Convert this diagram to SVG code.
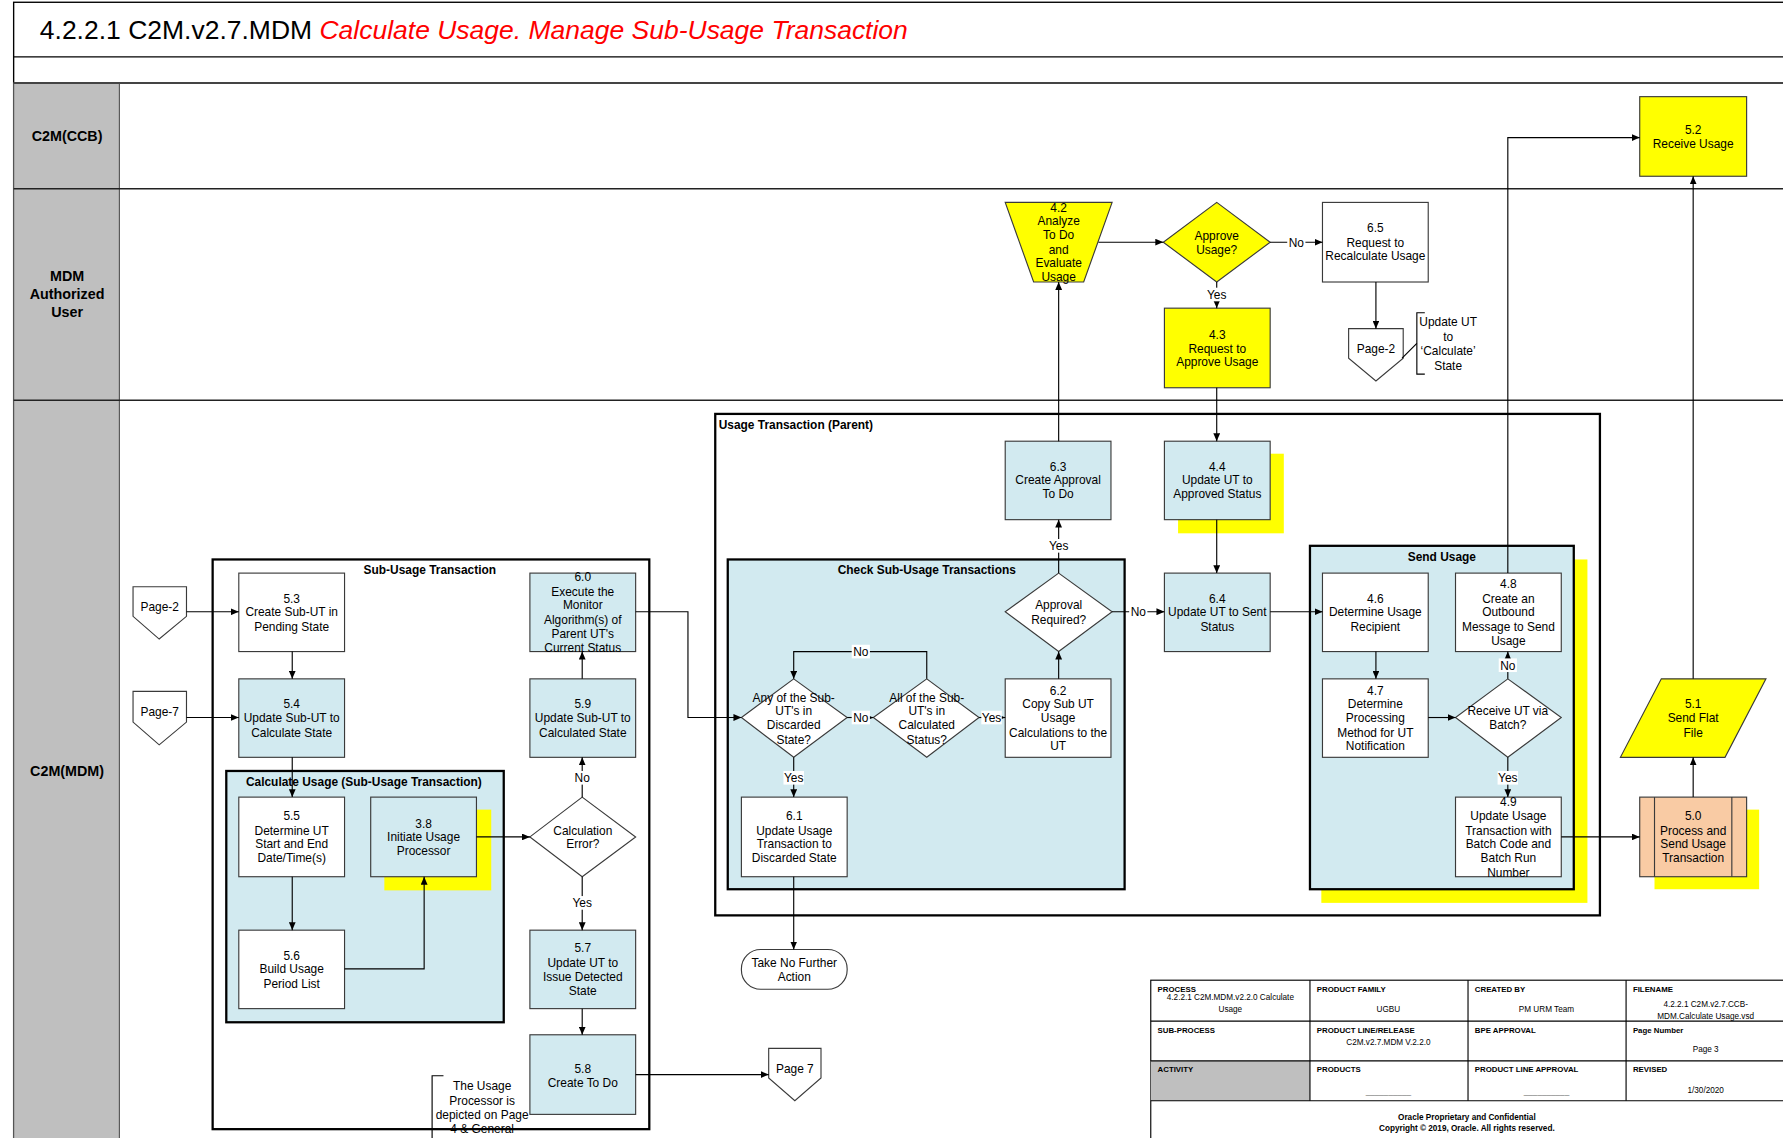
<svg xmlns="http://www.w3.org/2000/svg" width="1783" height="1138" viewBox="0 0 1783 1138">
<defs>
<marker id="ah" viewBox="0 0 10 10" refX="10" refY="5" markerWidth="7" markerHeight="6" markerUnits="userSpaceOnUse" orient="auto" preserveAspectRatio="none"><path d="M0,0 L10,5 L0,10 z" fill="#000"/></marker>
<style>
text{font-family:"Liberation Sans",Arial,sans-serif;fill:#000}
.t{font-size:10.5px;text-anchor:middle}
.bl{font-weight:bold}
.lane{font-size:12.6px;font-weight:bold;text-anchor:middle}
.box{stroke:#3a3a3a;stroke-width:1}
.w{fill:#fff}
.lb{fill:#D2EAF0}
.y{fill:#FFFF00}
.pe{fill:#F9CBA4}
.cont{stroke:#000;stroke-width:2}
.c{fill:none;stroke:#000;stroke-width:1}
.a{marker-end:url(#ah)}
.lbg{fill:#fff}
.th{font-size:6.9px;font-weight:bold}
.tv{font-size:7.2px;text-anchor:middle}
</style>
</defs>
<rect width="1783" height="1138" fill="#fff"/>
<g transform="scale(1.13712)">
<g id="frame">
<rect x="12" y="2" width="1570" height="1010" fill="none" stroke="#000" stroke-width="1.2"/>
<line x1="12" y1="50" x2="1575" y2="50" stroke="#000" stroke-width="1.2"/>
<text x="35" y="34.5" style="font-size:23.3px"><tspan>4.2.2.1 C2M.v2.7.MDM </tspan><tspan style="font-style:italic;fill:#FF0000">Calculate Usage. Manage Sub-Usage Transaction</tspan></text>
</g>
<g id="lanes">
<rect x="12" y="73" width="93" height="940" fill="#BFBFBF" stroke="#555" stroke-width="1"/>
<line x1="12" y1="73" x2="1575" y2="73" stroke="#444" stroke-width="1.8"/>
<line x1="12" y1="166" x2="1575" y2="166" stroke="#222" stroke-width="1.3"/>
<line x1="12" y1="352" x2="1575" y2="352" stroke="#222" stroke-width="1.3"/>
<text class="lane" x="59" y="124">C2M(CCB)</text>
<text class="lane"><tspan x="59" y="247">MDM</tspan><tspan x="59" y="263">Authorized</tspan><tspan x="59" y="279">User</tspan></text>
<text class="lane" x="59" y="682">C2M(MDM)</text>
</g>
<g id="containers">
<g id="parent-ut">
<rect x="629" y="364" width="778" height="441" fill="#fff" class="cont"/>
<text class="bl" x="632" y="377" style="font-size:10.5px">Usage Transaction (Parent)</text>
</g>
<g id="check-sub">
<rect x="640" y="492" width="349" height="290" class="lb cont"/>
<text class="t bl" x="815" y="505">Check Sub-Usage Transactions</text>
</g>
<g id="send-usage">
<rect x="1162" y="492" width="234" height="302" class="y"/>
<rect x="1152" y="480" width="232" height="302" class="lb cont"/>
<text class="t bl" x="1268" y="493">Send Usage</text>
</g>
<g id="sub-ut">
<rect x="187" y="492" width="384" height="501" fill="#fff" class="cont"/>
<text class="t bl" x="378" y="505">Sub-Usage Transaction</text>
</g>
<g id="calc-usage">
<rect x="199" y="678" width="244" height="221" class="lb cont"/>
<text class="t bl" x="320" y="691">Calculate Usage (Sub-Usage Transaction)</text>
</g>
</g>
<g id="n5_2"><rect x="1442" y="85" width="94" height="70" class="y box"/><text class="t"><tspan x="1489" y="118">5.2</tspan><tspan x="1489" y="130">Receive Usage</tspan></text></g>
<g id="n4_2"><polygon points="884,178 978,178 953,248 909,248" class="y box"/><text class="t"><tspan x="931" y="186">4.2</tspan><tspan x="931" y="198">Analyze</tspan><tspan x="931" y="210">To Do</tspan><tspan x="931" y="223">and</tspan><tspan x="931" y="235">Evaluate</tspan><tspan x="931" y="247">Usage</tspan></text></g>
<g id="d_approve"><polygon points="1070,178 1117,213 1070,248 1023,213" class="y box"/><text class="t"><tspan x="1070" y="211">Approve</tspan><tspan x="1070" y="223">Usage?</tspan></text></g>
<g id="n6_5"><rect x="1163" y="178" width="93" height="70" class="w box"/><text class="t"><tspan x="1209.5" y="204">6.5</tspan><tspan x="1209.5" y="217">Request to</tspan><tspan x="1209.5" y="229">Recalculate Usage</tspan></text></g>
<g id="p_page2_top"><polygon points="1186,289 1234,289 1234,315 1210,335 1186,315" class="w box"/><text class="t" x="1210" y="310">Page-2</text></g>
<g id="note_calc_state"><path d="M1233,315 L1246,302" class="c"/><path d="M1253,275 H1246 V329 H1253" class="c"/><text class="t"><tspan x="1273.5" y="287">Update UT</tspan><tspan x="1273.5" y="300">to</tspan><tspan x="1273.5" y="312">‘Calculate’</tspan><tspan x="1273.5" y="325">State</tspan></text></g>
<g id="n4_3"><rect x="1024" y="271" width="93" height="70" class="y box"/><text class="t"><tspan x="1070.5" y="298">4.3</tspan><tspan x="1070.5" y="310">Request to</tspan><tspan x="1070.5" y="322">Approve Usage</tspan></text></g>
<g id="n6_3"><rect x="884" y="388" width="93" height="69" class="lb box"/><text class="t"><tspan x="930.5" y="414">6.3</tspan><tspan x="930.5" y="426">Create Approval</tspan><tspan x="930.5" y="438">To Do</tspan></text></g>
<g id="n4_4"><rect x="1036" y="399" width="93" height="70" class="y"/><rect x="1024" y="388" width="93" height="69" class="lb box"/><text class="t"><tspan x="1070.5" y="414">4.4</tspan><tspan x="1070.5" y="426">Update UT to</tspan><tspan x="1070.5" y="438">Approved Status</tspan></text></g>
<g id="n6_4"><rect x="1024" y="504" width="93" height="69" class="lb box"/><text class="t"><tspan x="1070.5" y="530">6.4</tspan><tspan x="1070.5" y="542">Update UT to Sent</tspan><tspan x="1070.5" y="555">Status</tspan></text></g>
<g id="d_approval_req"><polygon points="931,504 978,538 931,573 884,538" class="w box"/><text class="t"><tspan x="931" y="536">Approval</tspan><tspan x="931" y="549">Required?</tspan></text></g>
<g id="n6_2"><rect x="884" y="597" width="93" height="69" class="w box"/><text class="t"><tspan x="930.5" y="611">6.2</tspan><tspan x="930.5" y="623">Copy Sub UT</tspan><tspan x="930.5" y="635">Usage</tspan><tspan x="930.5" y="648">Calculations to the</tspan><tspan x="930.5" y="660">UT</tspan></text></g>
<g id="d_any_discarded"><polygon points="698,597 745,631 698,666 652,631" class="w box"/><text class="t"><tspan x="698" y="617">Any of the Sub-</tspan><tspan x="698" y="629">UT's in</tspan><tspan x="698" y="641">Discarded</tspan><tspan x="698" y="654">State?</tspan></text></g>
<g id="d_all_calculated"><polygon points="815,597 861,631 815,666 768,631" class="w box"/><text class="t"><tspan x="815" y="617">All of the Sub-</tspan><tspan x="815" y="629">UT's in</tspan><tspan x="815" y="641">Calculated</tspan><tspan x="815" y="654">Status?</tspan></text></g>
<g id="n6_1"><rect x="652" y="701" width="93" height="70" class="w box"/><text class="t"><tspan x="698.5" y="721">6.1</tspan><tspan x="698.5" y="734">Update Usage</tspan><tspan x="698.5" y="746">Transaction to</tspan><tspan x="698.5" y="758">Discarded State</tspan></text></g>
<g id="t_no_action"><rect x="652" y="835" width="93" height="35" rx="17" ry="17" class="w box"/><text class="t"><tspan x="698.5" y="850">Take No Further</tspan><tspan x="698.5" y="863">Action</tspan></text></g>
<g id="n4_6"><rect x="1163" y="504" width="93" height="69" class="w box"/><text class="t"><tspan x="1209.5" y="530">4.6</tspan><tspan x="1209.5" y="542">Determine Usage</tspan><tspan x="1209.5" y="555">Recipient</tspan></text></g>
<g id="n4_8"><rect x="1280" y="504" width="93" height="69" class="w box"/><text class="t"><tspan x="1326.5" y="517">4.8</tspan><tspan x="1326.5" y="530">Create an</tspan><tspan x="1326.5" y="542">Outbound</tspan><tspan x="1326.5" y="555">Message to Send</tspan><tspan x="1326.5" y="567">Usage</tspan></text></g>
<g id="n4_7"><rect x="1163" y="597" width="93" height="69" class="w box"/><text class="t"><tspan x="1209.5" y="611">4.7</tspan><tspan x="1209.5" y="623">Determine</tspan><tspan x="1209.5" y="635">Processing</tspan><tspan x="1209.5" y="648">Method for UT</tspan><tspan x="1209.5" y="660">Notification</tspan></text></g>
<g id="d_batch"><polygon points="1326,597 1373,631 1326,666 1280,631" class="w box"/><text class="t"><tspan x="1326" y="629">Receive UT via</tspan><tspan x="1326" y="641">Batch?</tspan></text></g>
<g id="n4_9"><rect x="1280" y="701" width="93" height="70" class="w box"/><text class="t"><tspan x="1326.5" y="709">4.9</tspan><tspan x="1326.5" y="721">Update Usage</tspan><tspan x="1326.5" y="734">Transaction with</tspan><tspan x="1326.5" y="746">Batch Code and</tspan><tspan x="1326.5" y="758">Batch Run</tspan><tspan x="1326.5" y="771">Number</tspan></text></g>
<g id="n5_0"><rect x="1455" y="712" width="92" height="70" class="y"/><rect x="1442" y="701" width="94" height="70" class="pe box"/><line x1="1455" y1="701" x2="1455" y2="771" class="box"/><line x1="1523" y1="701" x2="1523" y2="771" class="box"/><text class="t"><tspan x="1489" y="721">5.0</tspan><tspan x="1489" y="734">Process and</tspan><tspan x="1489" y="746">Send Usage</tspan><tspan x="1489" y="758">Transaction</tspan></text></g>
<g id="n5_1"><polygon points="1461,597 1553,597 1517,666 1425,666" class="y box"/><text class="t"><tspan x="1489" y="623">5.1</tspan><tspan x="1489" y="635">Send Flat</tspan><tspan x="1489" y="648">File</tspan></text></g>
<g id="p_page2_left"><polygon points="117,516 164,516 164,542 140,562 117,542" class="w box"/><text class="t" x="140.5" y="537">Page-2</text></g>
<g id="n5_3"><rect x="210" y="504" width="93" height="69" class="w box"/><text class="t"><tspan x="256.5" y="530">5.3</tspan><tspan x="256.5" y="542">Create Sub-UT in</tspan><tspan x="256.5" y="555">Pending State</tspan></text></g>
<g id="p_page7_left"><polygon points="117,608 164,608 164,635 140,655 117,635" class="w box"/><text class="t" x="140.5" y="630">Page-7</text></g>
<g id="n5_4"><rect x="210" y="597" width="93" height="69" class="lb box"/><text class="t"><tspan x="256.5" y="623">5.4</tspan><tspan x="256.5" y="635">Update Sub-UT to</tspan><tspan x="256.5" y="648">Calculate State</tspan></text></g>
<g id="n5_5"><rect x="210" y="701" width="93" height="70" class="w box"/><text class="t"><tspan x="256.5" y="721">5.5</tspan><tspan x="256.5" y="734">Determine UT</tspan><tspan x="256.5" y="746">Start and End</tspan><tspan x="256.5" y="758">Date/Time(s)</tspan></text></g>
<g id="n5_6"><rect x="210" y="818" width="93" height="69" class="w box"/><text class="t"><tspan x="256.5" y="844">5.6</tspan><tspan x="256.5" y="856">Build Usage</tspan><tspan x="256.5" y="869">Period List</tspan></text></g>
<g id="n3_8"><rect x="338" y="712" width="94" height="71" class="y"/><rect x="326" y="701" width="93" height="70" class="lb box"/><text class="t"><tspan x="372.5" y="728">3.8</tspan><tspan x="372.5" y="740">Initiate Usage</tspan><tspan x="372.5" y="752">Processor</tspan></text></g>
<g id="d_calc_error"><polygon points="512,701 559,736 512,771 466,736" class="w box"/><text class="t"><tspan x="512.5" y="734">Calculation</tspan><tspan x="512.5" y="746">Error?</tspan></text></g>
<g id="n5_9"><rect x="466" y="597" width="93" height="69" class="lb box"/><text class="t"><tspan x="512.5" y="623">5.9</tspan><tspan x="512.5" y="635">Update Sub-UT to</tspan><tspan x="512.5" y="648">Calculated State</tspan></text></g>
<g id="n6_0"><rect x="466" y="504" width="93" height="69" class="lb box"/><text class="t"><tspan x="512.5" y="511">6.0</tspan><tspan x="512.5" y="524">Execute the</tspan><tspan x="512.5" y="536">Monitor</tspan><tspan x="512.5" y="549">Algorithm(s) of</tspan><tspan x="512.5" y="561">Parent UT's</tspan><tspan x="512.5" y="573">Current Status</tspan></text></g>
<g id="n5_7"><rect x="466" y="818" width="93" height="69" class="lb box"/><text class="t"><tspan x="512.5" y="837">5.7</tspan><tspan x="512.5" y="850">Update UT to</tspan><tspan x="512.5" y="863">Issue Detected</tspan><tspan x="512.5" y="875">State</tspan></text></g>
<g id="n5_8"><rect x="466" y="910" width="93" height="70" class="lb box"/><text class="t"><tspan x="512.5" y="944">5.8</tspan><tspan x="512.5" y="956">Create To Do</tspan></text></g>
<g id="p_page7_bottom"><polygon points="676,922 722,922 722,948 699,968 676,948" class="w box"/><text class="t" x="699" y="944">Page 7</text></g>
<g id="note_usage_processor"><path d="M390,946 H380 V1010" class="c"/><text class="t"><tspan x="424" y="959">The Usage</tspan><tspan x="424" y="972">Processor is</tspan><tspan x="424" y="984">depicted on Page</tspan><tspan x="424" y="996">4 &amp; General</tspan></text></g>
<g id="connectors">
<path class="c a" d="M966,213 H1023"/>
<path class="c a" d="M1117,213 H1163"/>
<path class="c a" d="M1070,248 V271"/>
<path class="c a" d="M1210,248 V289"/>
<path class="c a" d="M1070,341 V388"/>
<path class="c a" d="M931,388 V248"/>
<path class="c a" d="M1070,457 V504"/>
<path class="c a" d="M931,504 V457"/>
<path class="c a" d="M978,538 H1024"/>
<path class="c a" d="M931,597 V573"/>
<path class="c a" d="M861,631 H884"/>
<path class="c a" d="M745,631 H768"/>
<path class="c a" d="M815,597 V573 H698 V597"/>
<path class="c a" d="M698,666 V701"/>
<path class="c a" d="M698,771 V835"/>
<path class="c a" d="M559,538 H605 V631 H652"/>
<path class="c a" d="M1117,538 H1163"/>
<path class="c a" d="M1326,504 V121 H1442"/>
<path class="c a" d="M1210,573 V597"/>
<path class="c a" d="M1256,631 H1280"/>
<path class="c a" d="M1326,597 V573"/>
<path class="c a" d="M1326,666 V701"/>
<path class="c a" d="M1373,736 H1442"/>
<path class="c a" d="M1489,701 V666"/>
<path class="c a" d="M1489,597 V155"/>
<path class="c a" d="M164,538 H210"/>
<path class="c a" d="M257,573 V597"/>
<path class="c a" d="M164,631 H210"/>
<path class="c a" d="M257,666 V701"/>
<path class="c a" d="M257,771 V818"/>
<path class="c a" d="M303,852 H373 V771"/>
<path class="c a" d="M419,736 H466"/>
<path class="c a" d="M512,701 V666"/>
<path class="c a" d="M512,771 V818"/>
<path class="c a" d="M512,597 V573"/>
<path class="c a" d="M512,887 V910"/>
<path class="c a" d="M559,945 H676"/>
<g id="connector-labels">
<rect class="lbg" x="1132" y="207" width="16" height="12"/><text class="t" x="1140" y="217">No</text>
<rect class="lbg" x="1061" y="253" width="18" height="12"/><text class="t" x="1070" y="263">Yes</text>
<rect class="lbg" x="922" y="474" width="18" height="12"/><text class="t" x="931" y="484">Yes</text>
<rect class="lbg" x="993" y="532" width="16" height="12"/><text class="t" x="1001" y="542">No</text>
<rect class="lbg" x="863" y="625" width="18" height="12"/><text class="t" x="872" y="635">Yes</text>
<rect class="lbg" x="749" y="625" width="16" height="12"/><text class="t" x="757" y="635">No</text>
<rect class="lbg" x="749" y="567" width="16" height="12"/><text class="t" x="757" y="577">No</text>
<rect class="lbg" x="689" y="678" width="18" height="12"/><text class="t" x="698" y="688">Yes</text>
<rect class="lbg" x="1318" y="579" width="16" height="12"/><text class="t" x="1326" y="589">No</text>
<rect class="lbg" x="1317" y="678" width="18" height="12"/><text class="t" x="1326" y="688">Yes</text>
<rect class="lbg" x="504" y="678" width="16" height="12"/><text class="t" x="512" y="688">No</text>
<rect class="lbg" x="503" y="788" width="18" height="12"/><text class="t" x="512" y="798">Yes</text>
</g>
</g>
<g id="title-block">
<rect x="1012" y="862" width="560" height="150" fill="#fff" stroke="#000" stroke-width="1"/>
<rect x="1012" y="933" width="140" height="35" fill="#BFBFBF"/>
<g stroke="#000" stroke-width="1">
<line x1="1012" y1="898" x2="1572" y2="898"/>
<line x1="1012" y1="933" x2="1572" y2="933"/>
<line x1="1012" y1="968" x2="1572" y2="968"/>
<line x1="1152" y1="862" x2="1152" y2="968"/>
<line x1="1291" y1="862" x2="1291" y2="968"/>
<line x1="1430" y1="862" x2="1430" y2="968"/>
</g>
<text class="th" x="1018" y="872">PROCESS</text>
<text class="tv"><tspan x="1082" y="879">4.2.2.1 C2M.MDM.v2.2.0 Calculate</tspan><tspan x="1082" y="890">Usage</tspan></text>
<text class="th" x="1158" y="872">PRODUCT FAMILY</text>
<text class="tv" x="1221" y="890">UGBU</text>
<text class="th" x="1297" y="872">CREATED BY</text>
<text class="tv" x="1360" y="890">PM URM Team</text>
<text class="th" x="1436" y="872">FILENAME</text>
<text class="tv"><tspan x="1500" y="886">4.2.2.1 C2M.v2.7.CCB-</tspan><tspan x="1500" y="896">MDM.Calculate Usage.vsd</tspan></text>
<text class="th" x="1018" y="908">SUB-PROCESS</text>
<text class="th" x="1158" y="908">PRODUCT LINE/RELEASE</text>
<text class="tv" x="1221" y="919">C2M.v2.7.MDM V.2.2.0</text>
<text class="th" x="1297" y="908">BPE APPROVAL</text>
<text class="th" x="1436" y="908">Page Number</text>
<text class="tv" x="1500" y="925">Page 3</text>
<text class="th" x="1018" y="943">ACTIVITY</text>
<text class="th" x="1158" y="943">PRODUCTS</text>
<text class="tv" x="1221" y="962" style="fill:#777">__________</text>
<text class="th" x="1297" y="943">PRODUCT LINE APPROVAL</text>
<text class="tv" x="1360" y="962" style="fill:#777">__________</text>
<text class="th" x="1436" y="943">REVISED</text>
<text class="tv" x="1500" y="961">1/30/2020</text>
<text class="tv bl"><tspan x="1290" y="985">Oracle Proprietary and Confidential</tspan><tspan x="1290" y="995">Copyright © 2019, Oracle. All rights reserved.</tspan></text>
</g>
</g>
</svg>
